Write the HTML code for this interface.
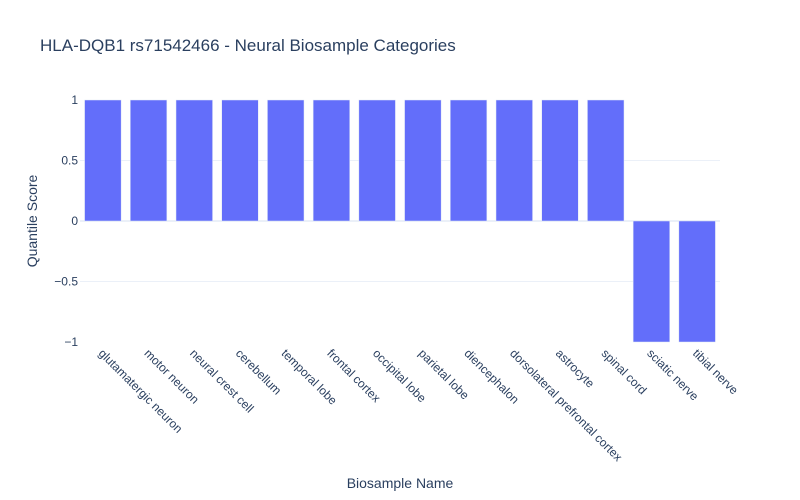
<!DOCTYPE html>
<html><head><meta charset="utf-8"><style>
body{margin:0;background:#fff}
svg{display:block;font-family:"Liberation Sans",Arial,sans-serif}
</style></head><body>
<svg id="chart" width="800" height="500">
<rect width="800" height="500" fill="#fff"/>
<text x="40" y="51" font-size="17" fill="#2a3f5f">HLA-DQB1 rs71542466 - Neural Biosample Categories</text>
<g id="grid"></g><g id="bars"></g><g id="yticks"></g><g id="xticks"></g>
<text x="400" y="488" font-size="14" fill="#2a3f5f" text-anchor="middle">Biosample Name</text>
<text transform="translate(37,221) rotate(-90)" font-size="14" fill="#2a3f5f" text-anchor="middle">Quantile Score</text>
</svg>
<script>
const categories=["glutamatergic neuron","motor neuron","neural crest cell","cerebellum","temporal lobe","frontal cortex","occipital lobe","parietal lobe","diencephalon","dorsolateral prefrontal cortex","astrocyte","spinal cord","sciatic nerve","tibial nerve"];
const values=[1,1,1,1,1,1,1,1,1,1,1,1,-1,-1];
const yTickValues=[-1,-0.5,0,0.5,1];
const yTickLabels=["\u22121","\u22120.5","0","0.5","1"];
const NS="http://www.w3.org/2000/svg";
const L=80,R=720,step=(R-L)/categories.length;
const y=v=>221-v*121;
const x=i=>L+step*(i+0.5);
function mk(t,a,p){const e=document.createElementNS(NS,t);for(const k in a)e.setAttribute(k,a[k]);document.getElementById(p).appendChild(e);return e;}
yTickValues.forEach((v,i)=>{
 if(Math.abs(v)===0.5){const g=mk('line',{x1:L,x2:R,y1:y(v),y2:y(v),stroke:'#ebf0f8','stroke-width':1},'grid');
 
 }
 const t=mk('text',{x:L-2,y:y(v)+4,'font-size':12,fill:'#2a3f5f','text-anchor':'end'},'yticks');
 t.textContent=yTickLabels[i];
 
 
});
const bw=step*0.8;
values.forEach((v,i)=>{
 const r=mk('rect',{x:x(i)-bw/2,y:Math.min(y(v),y(0)),width:bw,height:Math.abs(y(v)-y(0)),fill:'#636efa',stroke:'#e5ecf6','stroke-width':0.5},'bars');
 
 
 const t=mk('text',{transform:`translate(${x(i)-5},${y(-1)+12}) rotate(45)`,'font-size':12,fill:'#2a3f5f'},'xticks');
 t.textContent=categories[i];
 
 
});
const z=mk('line',{x1:L,x2:R,y1:y(0),y2:y(0),stroke:'#ebf0f8','stroke-width':2},'grid');


</script>
</body></html>
